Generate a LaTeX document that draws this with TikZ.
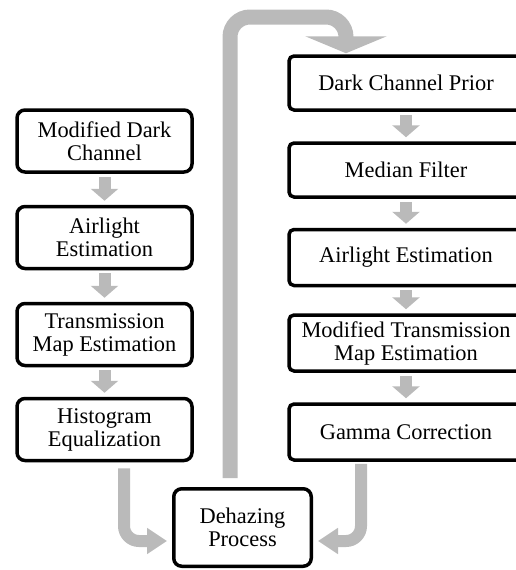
\documentclass[tikz,border=0pt]{standalone}
\usepackage{fontspec}
\setmainfont{Liberation Serif}
\usetikzlibrary{arrows.meta}
\definecolor{flowgray}{RGB}{186,186,186}
\tikzset{
  stage/.style={draw, line width=3.5pt, rounded corners=8pt, align=center,
    inner sep=2pt, font=\fontsize{22.4}{23}\selectfont},
  leftstage/.style={stage, minimum width=175pt, minimum height=62pt},
  rightstage/.style={stage, rounded corners=5pt, minimum width=234pt, minimum height=54pt},
  smallflow/.style={draw=flowgray, line width=12pt,
    -{Triangle[width=27pt,length=12pt]}, shorten <=3pt, shorten >=4pt},
  bigflow/.style={draw=flowgray, line width=15pt, rounded corners=20pt,
    -{Triangle[width=81pt,length=17pt]}},
  sideflow/.style={draw=flowgray, line width=12pt, rounded corners=15pt,
    -{Triangle[width=25pt,length=20pt]}},
}
\begin{document}
\begin{tikzpicture}[x=1pt,y=1pt]
    \useasboundingbox (0,0) rectangle (516,-570);

    % Left column
    \node[leftstage] (mdc) at (104.5,-141) {Modified Dark\\Channel};
    \node[leftstage] (ale) at (104.5,-237.5) {Airlight\\Estimation};
    \node[leftstage] (tme) at (104.5,-334.5) {Transmission\\Map Estimation};
    \node[leftstage] (hge) at (104.5,-429.5) {Histogram\\Equalization};

    % Right column
    \node[rightstage] (dcp) at (406,-83) {Dark Channel Prior};
    \node[rightstage] (mf) at (406,-170) {Median Filter};
    \node[rightstage, minimum height=56pt] (ae) at (406,-257.5) {Airlight Estimation};
    \node[rightstage, minimum height=56pt] (mte) at (406,-343) {Modified Transmission\\Map Estimation};
    \node[rightstage, minimum height=56pt] (gc) at (406,-432) {Gamma Correction};

    % Bottom
    \node[stage, minimum width=137.5pt, minimum height=77.5pt] (dhz) at (242.5,-527.5) {Dehazing\\Process};

    % Draw short arrows between stages
    \foreach \a/\b in {mdc/ale, ale/tme, tme/hge, dcp/mf, mf/ae, ae/mte, mte/gc} {
      \draw[smallflow] (\a) -- (\b);
    }

    % Draw loop from dehazing to the right column
    \coordinate (loopTop) at (346,-17);
    \draw[bigflow] ([xshift=-12.5pt,yshift=9pt]dhz.north) |- (loopTop)
      -- ([xshift=-60pt,yshift=1pt]dcp.north);

    % Draw side arrows into dehazing
    \coordinate (hgeOut) at ([xshift=19.5pt,yshift=-6pt]hge.south);
    \coordinate (gcOut) at ([xshift=-45pt,yshift=-2pt]gc.south);
    \draw[sideflow] (hgeOut) |- ([xshift=-5pt,yshift=-13.5pt]dhz.west);
    \draw[sideflow] (gcOut) |- ([xshift=5pt,yshift=-13.5pt]dhz.east);

\end{tikzpicture}
\end{document}
